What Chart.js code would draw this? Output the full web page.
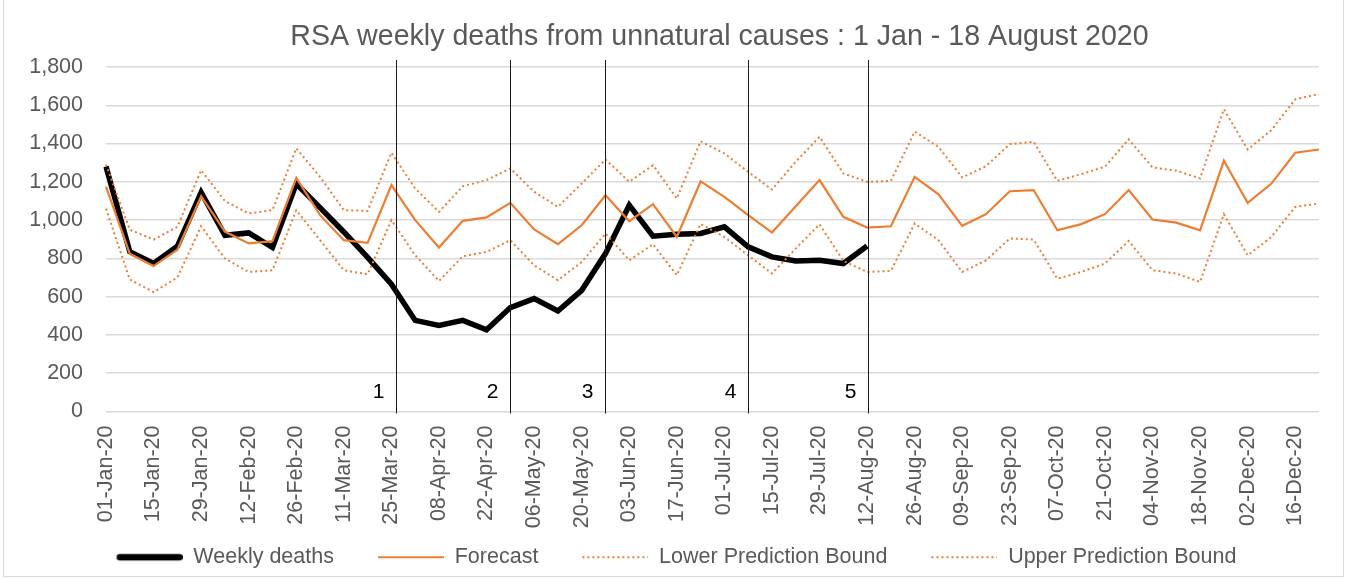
<!DOCTYPE html>
<html lang="en">
<head>
<meta charset="UTF-8" />
<title>RSA weekly deaths from unnatural causes</title>
<script src="https://cdn.jsdelivr.net/npm/chart.js"></script>
<style>
    html, body { margin: 0; padding: 0; background: #fff; }
    #wrap { position: relative; width: 1346px; height: 579px; }
    #frame { position: absolute; left: 3px; top: -1px; width: 1339px; height: 576px; border: 1px solid #d9d9d9; pointer-events: none; }
</style>
</head>
<body>
<div id="wrap">
    <canvas id="chart" width="1346" height="579"></canvas>
    <div id="frame"></div>
</div>

<script>
    const weeks = [
        "01-Jan-20", "08-Jan-20", "15-Jan-20", "22-Jan-20", "29-Jan-20", "05-Feb-20", "12-Feb-20", "19-Feb-20",
        "26-Feb-20", "04-Mar-20", "11-Mar-20", "18-Mar-20", "25-Mar-20", "01-Apr-20", "08-Apr-20", "15-Apr-20",
        "22-Apr-20", "29-Apr-20", "06-May-20", "13-May-20", "20-May-20", "27-May-20", "03-Jun-20", "10-Jun-20",
        "17-Jun-20", "24-Jun-20", "01-Jul-20", "08-Jul-20", "15-Jul-20", "22-Jul-20", "29-Jul-20", "05-Aug-20",
        "12-Aug-20", "19-Aug-20", "26-Aug-20", "02-Sep-20", "09-Sep-20", "16-Sep-20", "23-Sep-20", "30-Sep-20",
        "07-Oct-20", "14-Oct-20", "21-Oct-20", "28-Oct-20", "04-Nov-20", "11-Nov-20", "18-Nov-20", "25-Nov-20",
        "02-Dec-20", "09-Dec-20", "16-Dec-20", "23-Dec-20"
    ];

    // observed up to 12 Aug
    const weeklyDeaths = [
        1280, 835, 773, 863, 1145, 921, 933, 857, 1190, 1065, 938, 805, 665, 476, 450, 476,
        427, 543, 590, 525, 633, 825, 1078, 916, 926, 930, 965, 860, 808, 787, 790, 773, 865
    ];

    const forecast = [
        1175, 825, 760, 845, 1125, 940, 878, 890, 1220, 1026, 895, 881, 1183, 1000, 857, 996,
        1014, 1090, 951, 874, 973, 1130, 994, 1083, 912, 1202, 1121, 1026, 935, 1073, 1209, 1017,
        961, 968, 1226, 1135, 970, 1031, 1151, 1157, 947, 979, 1031, 1157, 1003, 987, 947, 1310,
        1090, 1191, 1352, 1369
    ];

    const lowerBound = [
        1060, 690, 624, 700, 968, 799, 729, 738, 1052, 895, 738, 717, 1000, 816, 682, 811,
        834, 895, 764, 686, 781, 930, 790, 874, 712, 980, 912, 816, 721, 851, 978, 787,
        729, 734, 982, 895, 729, 790, 904, 898, 694, 729, 773, 891, 738, 721, 677, 1031,
        816, 912, 1069, 1087
    ];

    const upperBound = [
        1290, 950, 898, 965, 1261, 1100, 1035, 1052, 1375, 1226, 1052, 1048, 1352, 1165, 1043, 1177,
        1209, 1270, 1148, 1069, 1191, 1317, 1200, 1287, 1113, 1412, 1348, 1252, 1160, 1305, 1435, 1244,
        1200, 1205, 1462, 1383, 1223, 1282, 1397, 1409, 1205, 1240, 1279, 1422, 1275, 1258, 1218, 1579,
        1369, 1470, 1631, 1659
    ];

    // lockdown phase boundaries (week index) and their labels
    const phaseAt = [12.2, 17, 21, 27, 32.05];
    const phaseLabels = ["1", "2", "3", "4", "5"];

    const TITLE = "RSA weekly deaths from unnatural causes : 1 Jan - 18 August 2020";
    const ORANGE = "#ed7d31";
    const GREY_TEXT = "#595959";
    const FONT = "'Liberation Sans', Arial, sans-serif";
    const SAMPLE_W = 100;   // legend slot: blank lead-in + line
    const SAMPLE_LEAD = 34;

    // little canvas used as legend swatch (so the dotted ones stay dotted)
    function lineSample(color, width, dash, cap) {
        const c = document.createElement("canvas");
        c.width = SAMPLE_W;
        c.height = 10;
        const g = c.getContext("2d");
        g.strokeStyle = color;
        g.lineWidth = width;
        g.lineCap = cap || "butt";
        g.setLineDash(dash || []);
        const inset = cap === "round" ? width / 2 : 0;
        g.beginPath();
        g.moveTo(SAMPLE_LEAD + inset, 5);
        g.lineTo(SAMPLE_W - inset, 5);
        g.stroke();
        return c;
    }

    const samples = [
        lineSample("#000", 6.5, [], "round"),
        lineSample(ORANGE, 2.2),
        lineSample(ORANGE, 2, [2, 3]),
        lineSample(ORANGE, 2, [2, 3])
    ];

    // title centred over the plot area, like the original
    const plotTitle = {
        id: "plotTitle",
        afterDraw(chart) {
            const { ctx, chartArea } = chart;
            ctx.save();
            ctx.fillStyle = GREY_TEXT;
            ctx.font = "28.6px " + FONT;
            ctx.textAlign = "center";
            ctx.textBaseline = "middle";
            ctx.fillText(TITLE, (chartArea.left + chartArea.right) / 2 + 7, chartArea.top - 30);
            ctx.restore();
        }
    };

    // vertical phase lines with numbers
    const phaseLines = {
        id: "phaseLines",
        afterDatasetsDraw(chart) {
            const { ctx, chartArea, scales } = chart;
            ctx.save();
            ctx.strokeStyle = "#1a1a1a";
            ctx.lineWidth = 1;
            ctx.fillStyle = "#000";
            ctx.font = "21px " + FONT;
            ctx.textAlign = "right";
            ctx.textBaseline = "middle";
            phaseAt.forEach((pos, i) => {
                const x = Math.round(scales.x.getPixelForValue(pos)) + 0.5;
                ctx.beginPath();
                ctx.moveTo(x, chartArea.top - 7);
                ctx.lineTo(x, chartArea.bottom + 2);
                ctx.stroke();
                ctx.fillText(phaseLabels[i], x - 12, chartArea.bottom - 19);
            });
            ctx.restore();
        }
    };

    new Chart(document.getElementById("chart"), {
        type: "line",
        data: {
            labels: weeks,
            datasets: [
                {
                    label: "Weekly deaths",
                    data: weeklyDeaths,
                    borderColor: "#000",
                    backgroundColor: "#000",
                    borderWidth: 5.5,
                    order: 3
                },
                {
                    label: "Forecast",
                    data: forecast,
                    borderColor: ORANGE,
                    backgroundColor: ORANGE,
                    borderWidth: 2.2,
                    order: 2
                },
                {
                    label: "Lower Prediction Bound",
                    data: lowerBound,
                    borderColor: ORANGE,
                    backgroundColor: ORANGE,
                    borderWidth: 2,
                    borderDash: [2, 3],
                    order: 1
                },
                {
                    label: "Upper Prediction Bound",
                    data: upperBound,
                    borderColor: ORANGE,
                    backgroundColor: ORANGE,
                    borderWidth: 2,
                    borderDash: [2, 3],
                    order: 0
                }
            ]
        },
        options: {
            responsive: false,
            animation: false,
            devicePixelRatio: 1,
            layout: { padding: { left: 0, right: 27, top: 67, bottom: 1 } },
            elements: {
                point: { radius: 0, hoverRadius: 0 },
                line: { tension: 0, fill: false }
            },
            scales: {
                x: {
                    offset: false,
                    grid: { display: false },
                    border: { display: false },
                    ticks: {
                        autoSkip: false,
                        maxRotation: 90,
                        minRotation: 90,
                        padding: 6,
                        color: GREY_TEXT,
                        font: { family: FONT, size: 21.5 },
                        callback: (v, i) => (i % 2 === 0 ? weeks[i] : "")
                    },
                    afterFit: (scale) => {
                        scale.height = 125;
                        scale.paddingRight = 0;
                    }
                },
                y: {
                    min: 0,
                    max: 1800,
                    grid: { color: "#d9d9d9", lineWidth: 1.5, drawTicks: false },
                    border: { display: false },
                    ticks: {
                        stepSize: 200,
                        padding: 23,
                        color: GREY_TEXT,
                        font: { family: FONT, size: 21.5 },
                        callback: (v) => v.toLocaleString("en-US")
                    },
                    afterFit: (scale) => { scale.width = 106; }
                }
            },
            plugins: {
                title: { display: false },
                legend: {
                    position: "bottom",
                    labels: {
                        usePointStyle: true,
                        pointStyleWidth: SAMPLE_W,
                        padding: 10,
                        color: GREY_TEXT,
                        font: { family: FONT, size: 21.5 },
                        sort: (a, b) => a.datasetIndex - b.datasetIndex,
                        generateLabels: (chart) =>
                            Chart.defaults.plugins.legend.labels.generateLabels(chart).map((item) => {
                                item.pointStyle = samples[item.datasetIndex];
                                return item;
                            })
                    }
                },
                tooltip: { enabled: false }
            }
        },
        plugins: [phaseLines, plotTitle]
    });
</script>
</body>
</html>
